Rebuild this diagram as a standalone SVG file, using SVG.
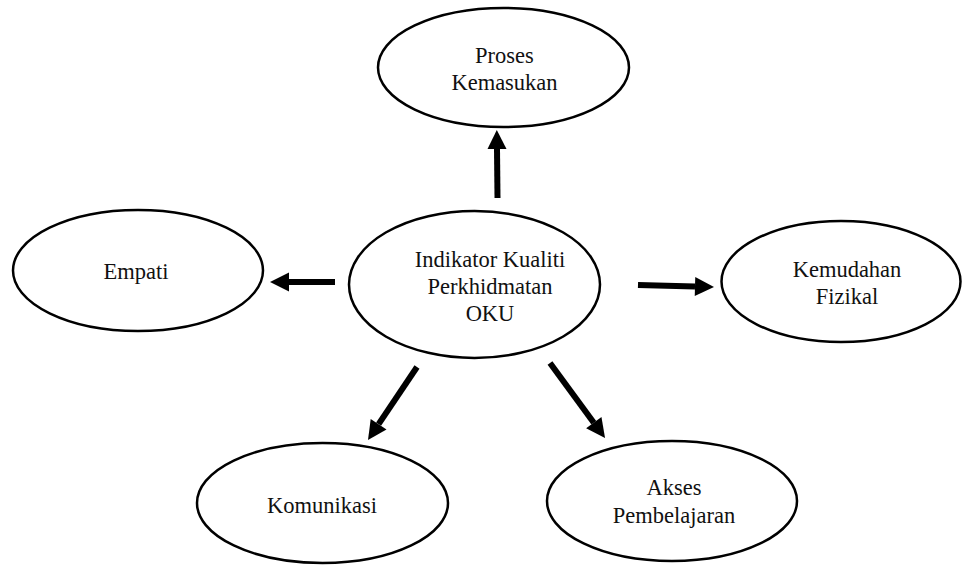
<svg xmlns="http://www.w3.org/2000/svg" width="962" height="565" viewBox="0 0 962 565">
<style>
.node ellipse{fill:#fff;stroke:#000;stroke-width:2.5}
.node text{font-family:'Liberation Serif','Times New Roman','DejaVu Serif',serif;font-size:22.5px;fill:#111;text-anchor:middle}
.conn line{stroke:#000;stroke-width:6}
</style>
<defs>
<marker id="ah" markerUnits="userSpaceOnUse" markerWidth="19" markerHeight="19" refX="0" refY="9.5" orient="auto" overflow="visible">
<path d="M0,0 L19,9.5 L0,19 z" fill="#000"/>
</marker>
</defs>
<rect width="962" height="565" fill="#fff"/>
<g id="n-proses" class="node">
<ellipse cx="503.5" cy="67.5" rx="125.5" ry="59.5"/>
<text x="504.5" y="63">Proses</text>
<text x="504.5" y="90">Kemasukan</text>
</g>
<g id="n-empati" class="node">
<ellipse cx="138" cy="270.5" rx="125" ry="60.5"/>
<text x="136" y="279">Empati</text>
</g>
<g id="n-center" class="node">
<ellipse cx="474.5" cy="284.5" rx="125.5" ry="73.5"/>
<text x="490" y="267">Indikator Kualiti</text>
<text x="490" y="294">Perkhidmatan</text>
<text x="490" y="321">OKU</text>
</g>
<g id="n-kemudahan" class="node">
<ellipse cx="841" cy="281.5" rx="119.5" ry="60.5"/>
<text x="847" y="277">Kemudahan</text>
<text x="847" y="304">Fizikal</text>
</g>
<g id="n-komunikasi" class="node">
<ellipse cx="322.5" cy="503" rx="125.5" ry="60"/>
<text x="322" y="513">Komunikasi</text>
</g>
<g id="n-akses" class="node">
<ellipse cx="672" cy="501" rx="125" ry="60"/>
<text x="674" y="495">Akses</text>
<text x="674" y="523">Pembelajaran</text>
</g>
<g id="connectors" class="conn">
<line x1="497.5" y1="198" x2="497" y2="149" marker-end="url(#ah)"/>
<line x1="335" y1="282" x2="289" y2="282" marker-end="url(#ah)"/>
<line x1="638" y1="285" x2="695" y2="286.5" marker-end="url(#ah)"/>
<line x1="417" y1="367" x2="378.6" y2="424.2" marker-end="url(#ah)"/>
<line x1="550" y1="363" x2="593.8" y2="422.7" marker-end="url(#ah)"/>
</g>
</svg>
